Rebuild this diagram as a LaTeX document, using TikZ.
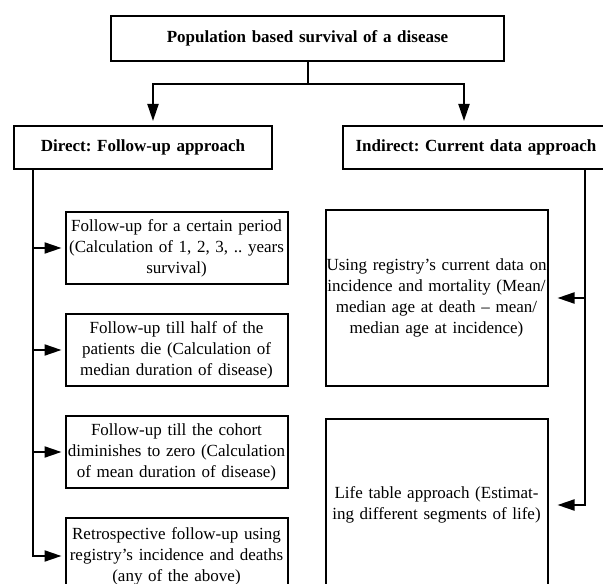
\documentclass[tikz,border=0pt]{standalone}
\usepackage{fontspec}
\setmainfont{Liberation Serif}
\usetikzlibrary{arrows.meta, positioning}
\frenchspacing

\begin{document}
\begin{tikzpicture}[
    x=1pt, y=1pt,
    node distance=28pt and 69pt,
    box/.style={rectangle, draw, line width=2pt, align=center,
                text width=222pt, inner sep=0pt, minimum height=72pt,
                font=\fontsize{17}{21}\selectfont},
    head/.style={box, text width=258pt, minimum height=43pt,
                 font=\fontsize{17}{21}\selectfont\bfseries},
    arr/.style={line width=2pt, -{Triangle[length=17pt, width=11pt]}},
    link/.style={line width=2pt}
]
\clip (0,0) rectangle (603,584);

\node[head, text width=393pt, minimum height=45pt] (survival) at (307.5,545.5)
    {Population based survival of a disease};
\node[head] (direct) at (143,436.5) {Direct: Follow-up approach};
\node[head, right=of direct, text width=266pt] (indirect) {Indirect: Current data approach};

\node[box] (fu1) at (176.5,336) {Follow-up for a certain period\\(Calculation of 1, 2, 3, .. years\\survival)};
\node[box, below=of fu1] (fu2) {Follow-up till half of the\\patients die (Calculation of\\median duration of disease)};
\node[box, below=of fu2] (fu3) {Follow-up till the cohort\\diminishes to zero (Calculation\\of mean duration of disease)};
\node[box, below=of fu3, minimum height=76pt] (fu4) {Retrospective follow-up using\\registry’s incidence and deaths\\(any of the above)};

\node[box, minimum height=176pt] (cur) at (436.5,286) {Using registry’s current data on\\incidence and mortality (Mean/\\median age at death -- mean/\\median age at incidence)};
\node[box, below=31pt of cur, minimum height=172pt] (life) {Life table approach (Estimat-\\ing different segments of life)};

\coordinate (split) at ([yshift=-22pt]survival.south);
\draw[link] (survival) -- (split);
\draw[arr, shorten >=4pt] (split) -| ([xshift=10pt]direct.north);
\draw[arr, shorten >=4pt] (split) -| ([xshift=-12pt]indirect.north);

\coordinate (ltop) at ([xshift=-110pt]direct.south);
\foreach \i in {1,...,4}
  \draw[arr, shorten >=3pt] (ltop) |- (fu\i.west);

\coordinate (rtop) at ([xshift=109pt]indirect.south);
\draw[arr, shorten >=9pt] (rtop) |- (cur.east);
\draw[arr, shorten >=9pt] (rtop) |- (life.east);

\end{tikzpicture}
\end{document}
